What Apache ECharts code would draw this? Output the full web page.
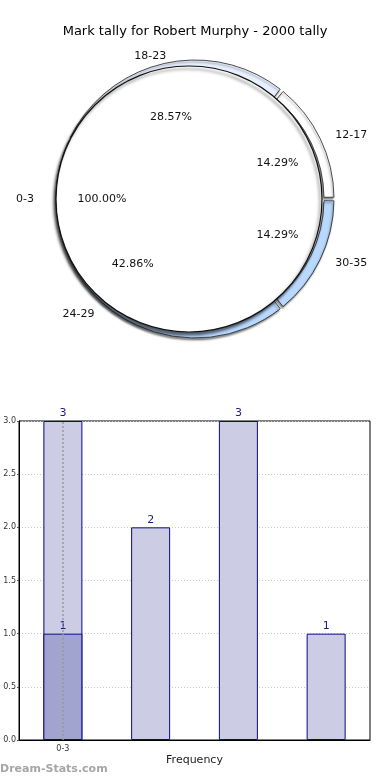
<!DOCTYPE html>
<html>
<head>
<meta charset="utf-8">
<script src="https://cdn.jsdelivr.net/npm/echarts@6/dist/echarts.min.js"></script>
<style>html,body{margin:0;padding:0;background:#fff}#c{width:390px;height:780px}</style>
</head>
<body>
<div id="c"></div>
<script>
// ---- data ----
var titleText = 'Mark tally for Robert Murphy - 2000 tally';
var innerNames = ['0-3'];
var innerValues = [1];
var ringNames = ['12-17', '18-23', '24-29', '30-35'];
var ringValues = [1, 2, 3, 1];
var ringColors = ['#ffffff', '#e8f0ff', '#b8d8ff', '#b8d8ff'];
var barCategories = ['0-3', '', '', ''];
var barValues = [3, 2, 3, 1];
var barFrontValues = [1, null, null, null];
var yTicks = [0, 0.5, 1, 1.5, 2, 2.5, 3];

var FONT = 'DejaVu Sans';
var CX = 189, CY = 199;

function mk(names, values) {
  return names.map(function (n, i) { return { name: n, value: values[i] }; });
}
function sum(a) { return a.reduce(function (s, v) { return s + v; }, 0); }
function pctFmt(values) {
  var total = sum(values);
  return function (p) { return (p.value / total * 100).toFixed(2) + '%'; };
}
function squeeze(k) {
  return function (p) {
    var r = p.labelRect;
    var c = r.y + r.height / 2;
    return { dy: (c - CY) * (k - 1) };
  };
}
var transparent = { color: 'rgba(0,0,0,0)', borderWidth: 0 };

var chart = echarts.init(document.getElementById('c'), null, { renderer: 'canvas' });
chart.setOption({
  animation: false,
  textStyle: { fontFamily: FONT },
  title: {
    text: titleText, left: 'center', top: 20,
    textStyle: { fontFamily: FONT, fontSize: 13, fontWeight: 'normal', color: '#000' }
  },
  graphic: [{
    type: 'text', left: 0, top: 764,
    style: { text: 'Dream-Stats.com', fontFamily: FONT, fontSize: 11, fontWeight: 'bold', fill: '#a6a6a6' }
  }],
  grid: { left: 19, right: 20, top: 421, bottom: 40, show: true, borderColor: '#000', borderWidth: 1, backgroundColor: 'transparent' },
  xAxis: {
    type: 'category', data: barCategories, boundaryGap: true,
    axisLine: { lineStyle: { color: '#000' } },
    axisTick: { show: false },
    axisLabel: { fontSize: 8, color: '#333', margin: 5, fontFamily: FONT },
    name: 'Frequency', nameLocation: 'middle', nameGap: 15,
    nameTextStyle: { fontSize: 11, color: '#222', fontFamily: FONT },
    splitLine: { show: false }
  },
  yAxis: {
    type: 'value', min: 0, max: 3, interval: 0.5,
    axisLine: { show: true, lineStyle: { color: '#000' } },
    axisTick: { show: true, length: 2, lineStyle: { color: '#555' } },
    axisLabel: { fontSize: 8, color: '#333', margin: 3, fontFamily: FONT,
      formatter: function (v) { return yTicks.indexOf(v) >= 0 ? v.toFixed(1) : ''; } },
    splitLine: { show: true, lineStyle: { color: '#c8c8c8', type: [1, 2], width: 1 } }
  },
  series: [
    {
      type: 'pie', center: [CX + 6, CY], radius: [129, 139],
      startAngle: 0, clockwise: false, padAngle: 1.5, silent: true,
      data: mk(ringNames, ringValues).map(function (d, i) {
        d.itemStyle = { color: ringColors[i] }; return d;
      }),
      itemStyle: { borderColor: '#222', borderWidth: 0.8, shadowColor: 'rgba(0,0,0,0.45)', shadowBlur: 2, shadowOffsetX: -1, shadowOffsetY: 2 },
      label: { show: false }, labelLine: { show: false }, emphasis: { disabled: true }, z: 1
    },
    {
      type: 'pie', center: [CX, CY], radius: [0, 133],
      startAngle: 0, clockwise: false, silent: true,
      data: mk(innerNames, innerValues),
      itemStyle: { color: '#ffffff', borderColor: '#111', borderWidth: 1.2, shadowColor: 'rgba(0,0,0,0.55)', shadowBlur: 3, shadowOffsetX: -2, shadowOffsetY: 3 },
      label: { show: false }, labelLine: { show: false }, emphasis: { disabled: true }, z: 2
    },
    {
      // ring percentage labels
      type: 'pie', center: [CX + 3, CY], radius: [0, 184],
      startAngle: 0, clockwise: false, silent: true, avoidLabelOverlap: false,
      data: mk(ringNames, ringValues), itemStyle: transparent,
      label: { show: true, position: 'inside', fontSize: 11, color: '#111', fontFamily: FONT,
        formatter: pctFmt(ringValues) },
      labelLayout: squeeze(0.88),
      labelLine: { show: false }, emphasis: { disabled: true }, z: 3
    },
    {
      // inner percentage label
      type: 'pie', center: [CX, CY], radius: [0, 168],
      startAngle: 0, clockwise: false, silent: true, avoidLabelOverlap: false,
      data: mk(innerNames, innerValues), itemStyle: transparent,
      label: { show: true, position: 'inside', fontSize: 11, color: '#111', fontFamily: FONT,
        formatter: pctFmt(innerValues) },
      labelLine: { show: false }, emphasis: { disabled: true }, z: 3
    },
    {
      // ring name labels
      type: 'pie', center: [CX + 1, CY], radius: [0, 352],
      startAngle: 0, clockwise: false, silent: true, avoidLabelOverlap: false,
      data: mk(ringNames, ringValues), itemStyle: transparent,
      label: { show: true, position: 'inside', fontSize: 11, color: '#111', fontFamily: FONT, formatter: '{b}' },
      labelLayout: squeeze(0.82),
      labelLine: { show: false }, emphasis: { disabled: true }, z: 3
    },
    {
      // inner name label
      type: 'pie', center: [CX, CY], radius: [0, 322],
      startAngle: 0, clockwise: false, silent: true, avoidLabelOverlap: false,
      data: mk(innerNames, innerValues), itemStyle: transparent,
      label: { show: true, position: 'inside', fontSize: 11, color: '#111', fontFamily: FONT, formatter: '{b}' },
      labelLine: { show: false }, emphasis: { disabled: true }, z: 3
    },
    {
      type: 'bar', data: barValues, barWidth: 39, barGap: '-100%',
      itemStyle: { color: '#ccccE4', borderColor: '#0a0a88', borderWidth: 1 },
      label: { show: true, position: 'top', distance: 2, fontSize: 11, color: '#1a1a8c', fontFamily: FONT },
      emphasis: { disabled: true }, silent: true, z: 2
    },
    {
      type: 'bar', data: barFrontValues, barWidth: 39, barGap: '-100%',
      itemStyle: { color: '#a2a4d0', borderColor: '#0a0a88', borderWidth: 1 },
      label: { show: true, position: 'top', distance: 2, fontSize: 11, color: '#1a1a8c', fontFamily: FONT },
      emphasis: { disabled: true }, silent: true, z: 3,
      markLine: {
        silent: true, symbol: 'none', label: { show: false },
        lineStyle: { color: '#999', type: [2, 2], width: 1.5 },
        data: [{ xAxis: barCategories[0] }]
      }
    }
  ]
});
</script>
</body>
</html>
